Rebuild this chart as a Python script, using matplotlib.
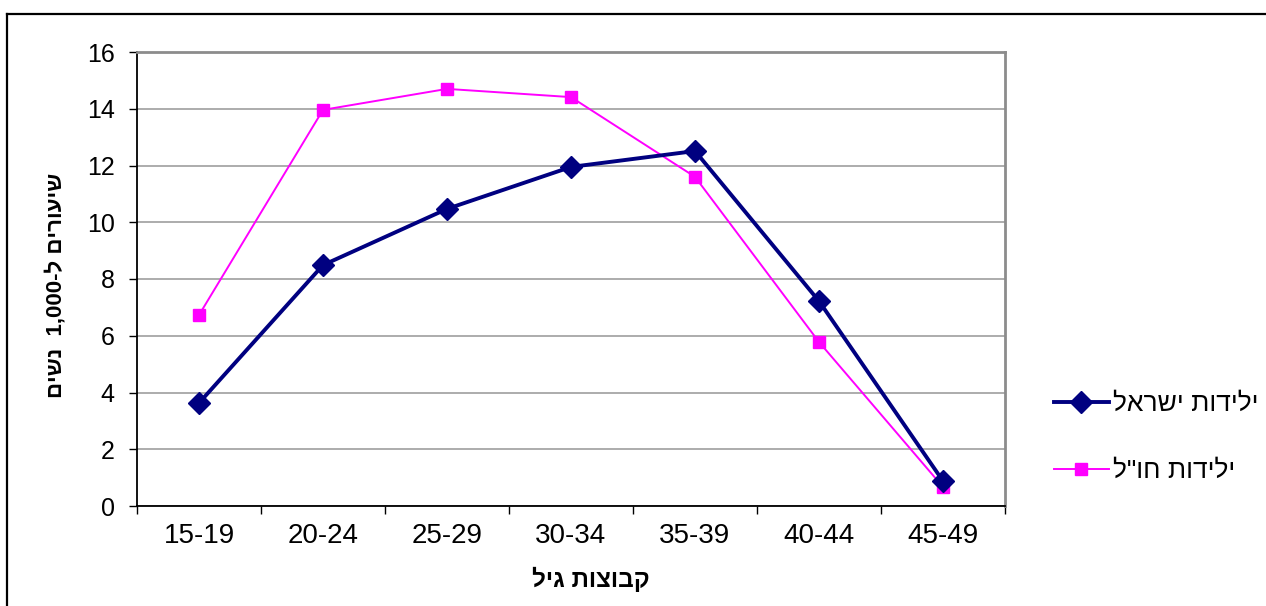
import re
import matplotlib
matplotlib.use("Agg")
import matplotlib.pyplot as plt
from matplotlib.lines import Line2D

ageGroups=["15-19","20-24","25-29","30-34","35-39","40-44","45-49"]
israelBorn=[3.63,8.49,10.47,11.95,12.51,7.22,0.88]
abroadBorn=[6.73,13.96,14.70,14.41,11.60,5.78,0.67]
seriesNames=["ילידות ישראל",'ילידות חו"ל']
xTitle="קבוצות גיל"
yTitle="שיעורים ל-1,000  נשים"
yTicks=[0,2,4,6,8,10,12,14,16]


def rtl(s):
    #matplotlib has no bidi, so flip to visual order and put numbers back
    r=s[::-1]
    return re.sub(r"[0-9][0-9,.]*[0-9]|[0-9]",lambda m:m.group(0)[::-1],r)


plt.rcParams["font.family"]=["Liberation Sans","DejaVu Sans"]

W,H=1266,606
fig=plt.figure(figsize=(W/100,H/100),dpi=100)
ax=fig.add_axes([137/W,1-506/H,(1005-137)/W,(506-52)/H])

navy="#000080"
pink="#FF00FF"
x=list(range(len(ageGroups)))
ax.plot(x,israelBorn,color=navy,lw=2.8,marker="D",ms=11,mec=navy,mfc=navy,zorder=4)
ax.plot(x,abroadBorn,color=pink,lw=1.4,marker="s",ms=8.5,mec=pink,mfc=pink,zorder=3)

ax.set_xlim(-0.5,len(ageGroups)-0.5)
ax.set_ylim(0,16)
ax.set_yticks(yTicks)
ax.set_xticks(x)
ax.set_xticklabels(ageGroups)
ax.set_xticks([i-0.5 for i in range(len(ageGroups)+1)],minor=True)
ax.tick_params(axis="x",which="major",length=0,pad=12,labelsize=20)
ax.tick_params(axis="x",which="minor",length=6,width=1,direction="out")
ax.tick_params(axis="y",length=6,width=1,direction="out",pad=10,labelsize=18)
ax.yaxis.grid(True,color="#969696",lw=1.1)
ax.set_axisbelow(True)

for s in ["top","right"]:
    ax.spines[s].set_color("#8c8c8c")
    ax.spines[s].set_linewidth(2)
for s in ["left","bottom"]:
    ax.spines[s].set_color("black")
    ax.spines[s].set_linewidth(1.3)

fig.text(591/W,1-579/H,rtl(xTitle),fontsize=17.5,fontweight="bold",ha="center",va="center")
fig.text(56/W,1-285/H,rtl(yTitle),fontsize=16,fontweight="bold",rotation=90,ha="center",va="center")

handles=[Line2D([],[],color=navy,lw=2.8,marker="D",ms=11),
         Line2D([],[],color=pink,lw=1.4,marker="s",ms=8.5)]
leg=fig.legend(handles,[rtl(n) for n in seriesNames],loc="upper left",
           bbox_to_anchor=(1030/W,1-368/H),frameon=False,fontsize=19,
           handlelength=2.1,handletextpad=0.15,labelspacing=1.63)

#outer chart frame (only top and left visible in the crop)
fig.add_artist(Line2D([7/W,1],[1-14/H,1-14/H],color="black",lw=1.6,transform=fig.transFigure))
fig.add_artist(Line2D([7/W,7/W],[0,1-14/H],color="black",lw=1.6,transform=fig.transFigure))

plt.savefig("out.png",dpi=100)
